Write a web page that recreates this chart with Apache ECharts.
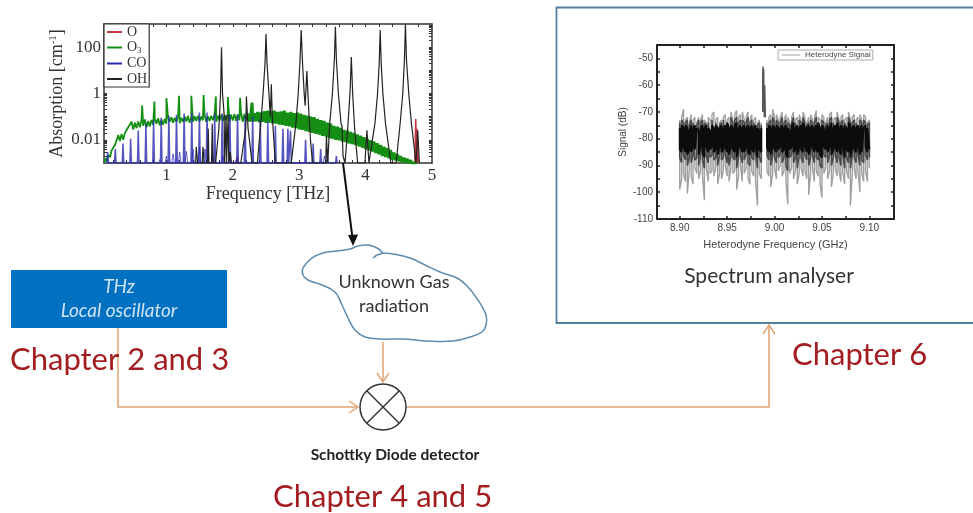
<!DOCTYPE html>
<html><head><meta charset="utf-8">
<style>html,body{margin:0;padding:0;background:#fff}#c{width:973px;height:513px;filter:blur(0.5px)}</style>
<script src="https://cdn.jsdelivr.net/npm/echarts@6/dist/echarts.min.js"></script>
</head><body><div id="c"></div>
<script>
// ---- absorption chart data ----
const absXTicks=[1,2,3,4,5];
const absYLabels=[0.01,1,100];
const absYMinor=[0.002,0.003,0.004,0.005,0.006,0.007,0.008,0.009,0.01,0.02,0.03,0.04,0.05,0.06,0.07,0.08,0.09,0.1,0.2,0.3,0.4,0.5,0.6,0.7,0.8,0.9,1,2,3,4,5,6,7,8,9,10,20,30,40,50,60,70,80,90,100,200,300,400,500,600,700,800,900];
const absXMinor=[0.2,0.4,0.6,0.8,1,1.2,1.4,1.6,1.8,2,2.2,2.4,2.6,2.8,3,3.2,3.4,3.6,3.8,4,4.2,4.4,4.6,4.8];
const coFreq=[0.115,0.23,0.346,0.461,0.576,0.691,0.807,0.922,1.037,1.152,1.267,1.382,1.497,1.612,1.727,1.841,1.956,2.071,2.185,2.299,2.413,2.527,2.641,2.755,2.829,2.869,3.096,3.21,3.323,3.56];
const coPeak=[0.003,0.004,0.007,0.011,0.025,0.05,0.07,0.09,0.11,0.12,0.14,0.14,0.15,0.15,0.14,0.14,0.13,0.12,0.11,0.1,0.08,0.06,0.04,0.03,0.03,0.025,0.01,0.007,0.004,0.002];
const coWing=[[0.9,0.0014],[1.0,0.002],[1.1,0.0025],[1.2,0.003],[1.3,0.0032],[1.4,0.004],[1.5,0.005],[1.58,0.004],[1.7,0.0025],[1.85,0.002],[1.95,0.002],[2.05,0.0014],[3.38,0.002],[3.42,0.003]];
const o3Freq=[0.06,0.1,0.15,0.2,0.25,0.3,0.35,0.4,0.45,0.5,0.55,0.6,0.65,0.7,0.75,0.8,0.85,0.9,0.95,1,1.05,1.1,1.15,1.2,1.25,1.3,1.35,1.4,1.45,1.5,1.55,1.6,1.65,1.7,1.75,1.8,1.85,1.9,1.95,2,2.05,2.1,2.15,2.2,2.25,2.3,2.35,2.4,2.45,2.5,2.55,2.6,2.65,2.7,2.75,2.8,2.85,2.9,2.95,3,3.05,3.1,3.15,3.2,3.25,3.3,3.35,3.4,3.45,3.5,3.55,3.6,3.65,3.7,3.75,3.8,3.85,3.9,3.95,4,4.05,4.1,4.15,4.2,4.25,4.3,4.35,4.4,4.45,4.5,4.55,4.6,4.65,4.7,4.75];
const o3Low=[0.001,0.0012,0.0018,0.003,0.006,0.009,0.01,0.018,0.03,0.028,0.032,0.035,0.04,0.035,0.038,0.045,0.05,0.042,0.045,0.05,0.06,0.055,0.06,0.052,0.06,0.062,0.055,0.06,0.065,0.062,0.07,0.06,0.065,0.07,0.06,0.068,0.065,0.07,0.062,0.068,0.065,0.07,0.06,0.066,0.062,0.06,0.064,0.058,0.06,0.055,0.056,0.05,0.05,0.046,0.045,0.04,0.038,0.034,0.032,0.028,0.027,0.024,0.022,0.02,0.018,0.017,0.015,0.014,0.012,0.011,0.01,0.0095,0.0085,0.008,0.007,0.0065,0.006,0.0052,0.0046,0.004,0.0035,0.0031,0.0027,0.0024,0.002,0.0018,0.0016,0.0014,0.0013,0.0012,0.0011,0.00105,0.001,0.001,0.001];
const o3High=[0.0016,0.0022,0.0035,0.006,0.016,0.018,0.02,0.035,0.06,0.055,0.062,0.07,0.075,0.065,0.072,0.08,0.085,0.075,0.08,0.09,0.095,0.09,0.1,0.09,0.1,0.11,0.095,0.105,0.11,0.1,0.12,0.105,0.11,0.12,0.11,0.12,0.115,0.13,0.12,0.13,0.125,0.14,0.13,0.14,0.15,0.14,0.16,0.15,0.17,0.18,0.17,0.18,0.16,0.17,0.18,0.15,0.16,0.14,0.15,0.135,0.12,0.11,0.1,0.095,0.08,0.07,0.065,0.055,0.05,0.04,0.037,0.033,0.027,0.025,0.022,0.02,0.017,0.015,0.013,0.011,0.0095,0.0085,0.0072,0.006,0.005,0.0044,0.0036,0.0028,0.0024,0.002,0.0017,0.0015,0.0013,0.0012,0.0011];
const o3Spikes=[[0.635,0.3],[0.82,0.45],[1.0,0.63],[1.19,0.8],[1.375,0.8],[1.56,0.85],[1.745,0.75],[1.925,0.7],[2.11,0.65],[2.29,0.4]];
const oPoints=[[2.06,0.001],[2.07,0.002],[2.08,0.001],[null,null],[4.74,0.001],[4.755,0.08],[4.77,0.001],[4.765,0.001],[4.775,0.03],[4.785,0.025],[4.795,0.001]];
const ohPoints=[[1.44,0.001],[1.45,0.005],[1.47,0.001],[1.54,0.001],[1.55,0.005],[1.57,0.001],[1.62,0.001],[1.63,0.03],[1.64,0.001],[1.68,0.001],[1.69,0.05],[1.7,0.001],
[1.74,0.001],[1.79,0.03],[1.815,1],[1.825,20],[1.83,100],[1.835,20],[1.845,1],[1.87,0.12],[1.875,0.001],[1.9,0.12],[1.905,0.001],[1.93,0.12],[1.94,0.001],[1.96,0.003],[1.98,0.001],
[2.12,0.001],[2.17,0.01],[2.195,0.03],[2.205,0.75],[2.215,0.75],[2.23,0.03],[2.25,0.01],[2.29,0.001],
[2.37,0.001],[2.43,0.1],[2.46,1.5],[2.485,20],[2.5,370],[2.515,20],[2.54,1.5],[2.565,0.1],[2.58,2.5],[2.595,0.1],[2.64,0.001],
[2.88,0.001],[2.95,0.05],[2.985,1],[3.01,20],[3.03,550],[3.05,20],[3.075,1],[3.09,0.3],[3.115,9.3],[3.13,9.3],[3.14,0.3],[3.17,0.01],[3.2,0.001],
[3.4,0.001],[3.41,0.015],[3.425,0.015],[3.43,0.001],[3.4,0.001],[3.46,0.05],[3.5,1],[3.53,30],[3.545,760],[3.56,30],[3.59,1],[3.63,0.05],[3.645,0.04],[3.66,0.002],[3.69,0.001],
[3.73,0.03],[3.765,1],[3.785,38],[3.805,1],[3.835,0.03],[3.88,0.001],
[3.99,0.001],[4.02,0.026],[4.03,0.026],[4.05,0.001],
[4.07,0.001],[4.14,0.05],[4.18,1],[4.205,20],[4.22,550],[4.235,20],[4.26,1],[4.3,0.05],[4.38,0.001],
[4.46,0.001],[4.52,0.05],[4.56,1],[4.585,30],[4.6,1000],[4.615,30],[4.65,1],[4.69,0.05],[4.76,0.001],
[4.77,0.001],[4.785,0.025],[4.795,0.025],[4.81,0.001]];
// ---- heterodyne chart data ----
const sigXLabels=[8.90,8.95,9.00,9.05,9.10];
const sigXTicks=[8.90,8.925,8.95,8.975,9.00,9.025,9.05,9.075,9.10];
const sigYLabels=[-110,-100,-90,-80,-70,-60,-50];
const sigYTicks=[-110,-105,-100,-95,-90,-85,-80,-75,-70,-65,-60,-55,-50,-45];
const leftStart=8.9, rightStart=8.992, sigStep=0.002;
const outerTopL=[-73,-72,-69,-73,-72,-74,-71,-73,-72,-74,-72,-73,-71,-73,-74,-72,-73,-71,-70,-73,-72,-74,-73,-72,-71,-73,-72,-70,-73,-71,-69.5,-72,-71,-70,-73,-72,-70,-73,-71,-73,-72,-74,-73,-74];
const outerBotL=[-99,-95,-93,-96,-100.5,-92,-94,-97,-91,-93,-95,-92,-94,-103,-91,-96,-93,-92,-94,-91,-97,-93,-95,-92,-90,-94,-96,-91,-93,-92,-99,-94,-90,-96,-93,-91,-95,-97,-92,-94,-96,-105,-93,-95];
const midTopL=[-74,-73,-74,-74,-73,-75,-73,-74,-74,-75,-73,-74,-73,-74,-75,-74,-74,-73,-73,-74,-74,-75,-74,-73,-73,-74,-74,-72,-74,-73,-72,-74,-73,-73,-74,-74,-72,-74,-73,-74,-74,-75,-74,-75];
const midBotL=[-87,-89,-86,-88,-90,-87,-89,-86,-88,-87,-90,-86,-88,-91,-86,-89,-87,-86,-88,-87,-90,-86,-88,-87,-86,-89,-90,-86,-87,-88,-91,-87,-86,-89,-88,-86,-89,-90,-87,-88,-86,-91,-87,-89];
const coreTopL=[-76,-75,-76,-75,-76,-77,-75,-76,-75,-76,-77,-76,-75,-76,-75,-76,-77,-75,-76,-75,-76,-76,-75,-76,-75,-74,-76,-75,-76,-75,-74,-76,-75,-76,-75,-76,-75,-76,-75,-76,-75,-76,-77,-76];
const coreBotL=[-84,-85,-83,-85,-86,-84,-85,-83,-84,-84,-86,-83,-85,-87,-83,-85,-84,-83,-85,-84,-86,-83,-85,-84,-83,-85,-86,-83,-84,-85,-87,-84,-83,-85,-85,-83,-85,-86,-84,-85,-83,-87,-84,-85];
const outerTopR=[-73,-72,-71,-69,-72,-71,-73,-72,-70,-73,-71,-72,-74,-72,-70,-73,-72,-71,-73,-70,-72,-74,-72,-71,-73,-72,-69.5,-72,-73,-71,-72,-74,-72,-71,-70,-73,-72,-70,-73,-72,-71,-73,-72,-70,-73,-72,-71,-73,-72,-71,-73,-71,-72,-74,-73];
const outerBotR=[-92,-94,-98,-93,-91,-95,-92,-90,-94,-92,-96,-104.5,-93,-91,-95,-92,-97,-93,-91,-94,-92,-95,-101,-93,-91,-96,-92,-94,-97,-102,-93,-91,-95,-92,-98,-93,-91,-94,-92,-96,-93,-97,-92,-95,-105,-93,-91,-95,-92,-100,-93,-96,-92,-96,-91];
const midTopR=[-74,-74,-73,-72,-74,-73,-74,-74,-72,-74,-73,-74,-75,-74,-72,-74,-74,-73,-74,-72,-74,-75,-74,-73,-74,-74,-72,-74,-74,-73,-74,-75,-74,-73,-72,-74,-74,-72,-74,-74,-73,-74,-74,-72,-74,-74,-73,-74,-74,-73,-74,-73,-74,-75,-74];
const midBotR=[-86,-88,-90,-86,-87,-89,-87,-86,-89,-87,-90,-92,-87,-86,-89,-87,-91,-86,-87,-89,-86,-88,-90,-87,-86,-89,-87,-88,-90,-91,-86,-87,-89,-86,-90,-87,-86,-89,-87,-90,-86,-91,-87,-89,-91,-86,-87,-89,-86,-90,-88,-89,-86,-88,-87];
const coreTopR=[-76,-75,-76,-75,-76,-75,-76,-76,-75,-76,-75,-76,-77,-75,-74,-76,-75,-76,-75,-74,-76,-76,-75,-76,-75,-76,-75,-74,-76,-75,-76,-77,-75,-76,-74,-76,-75,-74,-76,-75,-76,-75,-76,-74,-75,-76,-75,-76,-75,-76,-75,-76,-75,-76,-76];
const coreBotR=[-83,-85,-86,-83,-84,-85,-84,-83,-85,-84,-86,-87,-84,-83,-85,-84,-86,-83,-84,-85,-83,-85,-86,-84,-83,-85,-84,-85,-86,-87,-83,-84,-85,-83,-86,-84,-83,-85,-84,-86,-83,-87,-84,-85,-87,-83,-84,-85,-83,-86,-85,-85,-83,-85,-84];
const sigPeak=[[8.9875,-70],[8.9875,-56],[8.9878,-53],[8.988,-58],[8.9885,-54],[8.9888,-62],[8.9892,-72],[8.9896,-60],[8.99,-66],[8.9903,-72]];
const legendAbs=['O','O3','CO','OH'];

// --- build the line data from the lists above
const coLine=[];coFreq.forEach((f,i)=>coLine.push([f-0.012,0.001],[f,coPeak[i]],[f+0.012,0.001]));
const coWingLine=coWing.flatMap(p=>[[p[0]-0.02,0.001],p,[p[0]+0.02,0.001]]);
const o3Line=[];o3Freq.forEach((f,i)=>{o3Line.push([f,o3Low[i]],[f+0.025,o3High[i]]);});
o3Spikes.forEach(p=>o3Line.push(p));o3Line.sort((a,b)=>a[0]-b[0]);
const o3Left=o3Line.filter(p=>p[0]<=2.3), o3Right=o3Line.filter(p=>p[0]>=2.25);
function comb(start,tops,bots){const d=[];tops.forEach((t,i)=>{const f=start+i*sigStep;if(i%2)d.push([f,bots[i]],[f,t]);else d.push([f,t],[f,bots[i]]);});return d;}
const halves=(tL,bL,tR,bR)=>[...comb(leftStart,tL,bL),[null,null],...comb(rightStart,tR,bR)];
const outerLine=halves(outerTopL,outerBotL,outerTopR,outerBotR);
const midLine=halves(midTopL,midBotL,midTopR,midBotR);
const coreLine=halves(coreTopL,coreBotL,coreTopR,coreBotR);

const serif='"Liberation Serif",serif', sans='"Liberation Sans",sans-serif', cal='Lato,sans-serif';
const frame={show:true,lineStyle:{color:'#333',width:1.5}};
const frame2={show:true,lineStyle:{color:'#222',width:2}};
function line(name,data,color,width,xi,yi,opacity){return {name,type:'line',data,xAxisIndex:xi,yAxisIndex:yi,showSymbol:false,symbol:'none',silent:true,color,itemStyle:{color},connectNulls:false,animation:false,lineStyle:{color,width,opacity:opacity==null?1:opacity}};}
const orange='#dfa473';
function arrow(points){return {type:'polyline',shape:{points},style:{stroke:orange,fill:null,lineWidth:1.5},z:20};}
function txt(x,y,text,font,fill,style,align){return {type:'text',x,y,z:30,style:{text,font:(style||'')+' '+font,fill,align:align||'left',verticalAlign:'middle'}};}
const cloud=[[373,258],[377,255],[382,253],[377,248],[368,245],[358,246],[350,249],[337,251],[323,253],[312,258],[303,268],[303,275],[308,280],[322,285],[335,292],[342,305],[348,318],[355,330],[365,337],[380,339],[403,339],[427,341],[453,341],[470,337],[482,332],[486,325],[486,315],[478,300],[468,287],[457,278],[440,272],[425,265],[410,258],[393,254],[382,253]];

const option={
 backgroundColor:'#fff',animation:false,
 grid:[{left:104,top:24,width:328,height:139,show:false},{left:657,top:45,width:237,height:174,show:false}],
 legend:[
  {left:104,top:24,orient:'vertical',z:15,data:legendAbs,selectedMode:false,itemWidth:15,itemHeight:2,itemGap:1.5,icon:'rect',padding:[1,2,1,3],backgroundColor:'#fff',borderColor:'#333',borderWidth:1.2,
   formatter:n=>n==='O3'?'{a|O}{s|3}':'{a|'+n+'}',textStyle:{rich:{a:{fontFamily:serif,fontSize:14,color:'#333'},s:{fontFamily:serif,fontSize:9,color:'#333',verticalAlign:'bottom',padding:[6,0,0,0]}}}},
  {left:778,top:50,orient:'horizontal',z:15,data:['Heterodyne Signal'],selectedMode:false,itemWidth:18,itemHeight:1,icon:'rect',padding:[1,2,1,4],backgroundColor:'#fff',borderColor:'#aaa',borderWidth:1,textStyle:{fontFamily:sans,fontSize:8,color:'#444'}}
 ],
 xAxis:[
  {gridIndex:0,type:'value',min:0.06,max:5,position:'bottom',axisLine:frame,splitLine:{show:false},
   axisTick:{inside:true,length:3,customValues:absXMinor,lineStyle:{color:'#333'}},
   axisLabel:{customValues:absXTicks,fontFamily:serif,fontSize:17,color:'#333',margin:4,showMinLabel:true,showMaxLabel:true},
   name:'Frequency [THz]',nameLocation:'middle',nameGap:21,nameTextStyle:{fontFamily:serif,fontSize:18,color:'#333'}},
  {gridIndex:0,type:'value',min:0.06,max:5,position:'top',axisLine:frame,splitLine:{show:false},
   axisTick:{inside:true,length:3,customValues:absXMinor,lineStyle:{color:'#333'}},axisLabel:{show:false}},
  {gridIndex:1,type:'value',min:8.876,max:9.126,position:'bottom',axisLine:frame2,splitLine:{show:false},
   axisTick:{inside:true,length:3,customValues:sigXTicks,lineStyle:{color:'#222',width:1.5}},
   axisLabel:{customValues:sigXLabels,formatter:v=>v.toFixed(2),fontFamily:sans,fontSize:10,color:'#444',margin:4},
   name:'Heterodyne Frequency (GHz)',nameLocation:'middle',nameGap:20,nameTextStyle:{fontFamily:sans,fontSize:11,color:'#444'}},
  {gridIndex:1,type:'value',min:8.876,max:9.126,position:'top',axisLine:frame2,splitLine:{show:false},
   axisTick:{inside:true,length:3,customValues:sigXTicks,lineStyle:{color:'#222',width:1.5}},axisLabel:{show:false}}
 ],
 yAxis:[
  {gridIndex:0,type:'log',logBase:10,min:0.001,max:1000,position:'left',axisLine:frame,splitLine:{show:false},minorTick:{show:false},
   axisTick:{inside:true,length:3,customValues:absYMinor,lineStyle:{color:'#333'}},
   axisLabel:{customValues:absYLabels,formatter:v=>String(+Number(v).toPrecision(3)),fontFamily:serif,fontSize:17,color:'#333',margin:3},
   name:'{a|Absorption [cm}{s|-1}{a|]}',nameLocation:'middle',nameGap:38,nameTextStyle:{rich:{a:{fontFamily:serif,fontSize:18,color:'#333'},s:{fontFamily:serif,fontSize:11,color:'#333',verticalAlign:'top'}}}},
  {gridIndex:0,type:'log',logBase:10,min:0.001,max:1000,position:'right',axisLine:frame,splitLine:{show:false},minorTick:{show:false},
   axisTick:{inside:true,length:3,customValues:absYMinor,lineStyle:{color:'#333'}},axisLabel:{show:false}},
  {gridIndex:1,type:'value',min:-110,max:-45,position:'left',axisLine:frame2,splitLine:{show:false},
   axisTick:{inside:true,length:3,customValues:sigYTicks,lineStyle:{color:'#222',width:1.5}},
   axisLabel:{customValues:sigYLabels,fontFamily:sans,fontSize:10,color:'#444',margin:4},
   name:'Signal (dB)',nameLocation:'middle',nameGap:29,nameTextStyle:{fontFamily:sans,fontSize:10,color:'#444'}},
  {gridIndex:1,type:'value',min:-110,max:-45,position:'right',axisLine:frame2,splitLine:{show:false},
   axisTick:{inside:true,length:3,customValues:sigYTicks,lineStyle:{color:'#222',width:1.5}},axisLabel:{show:false}}
 ],
 series:[
  line('O',oPoints,'#c8343f',1.5,0,0),
  line('O3',o3Left,'#148f14',1.8,0,0),
  line('O3',o3Right,'#148f14',3,0,0),
  line('CO',coLine,'#2b2bb0',1.5,0,0,0.8),
  line('CO',coWingLine,'#2b2bb0',1,0,0,0.7),
  line('OH',ohPoints,'#222',1.2,0,0),
  line('Heterodyne Signal',outerLine,'#a0a0a0',1.4,2,2),
  line('Heterodyne Signal',midLine,'#4a4a4a',1.6,2,2),
  line('Heterodyne Signal',coreLine,'#0c0c0c',1.9,2,2),
  line('Heterodyne Signal',sigPeak,'#555',1.4,2,2)
 ],
 graphic:{elements:[
  {type:'rect',shape:{x:556.5,y:7.5,width:430,height:315.5},style:{fill:null,stroke:'#54809f',lineWidth:1.8},z:1},
  {type:'rect',shape:{x:11,y:270,width:216,height:58},style:{fill:'#0070c0'},z:1},
  txt(119,287,'THz','19px '+cal,'#cfe3f2','italic','center'),
  txt(119,311,'Local oscillator','19px '+cal,'#cfe3f2','italic','center'),
  txt(10,360,'Chapter 2 and 3','31px '+cal,'#a31d20'),
  txt(273,497,'Chapter 4 and 5','31px '+cal,'#a31d20'),
  txt(792,355,'Chapter 6','31px '+cal,'#a31d20'),
  txt(395,455,'Schottky Diode detector','bold 15.5px '+cal,'#222',null,'center'),
  txt(769,276,'Spectrum analyser','21px '+cal,'#333',null,'center'),
  txt(394,282,'Unknown Gas','18px '+cal,'#333',null,'center'),
  txt(394,306,'radiation','18px '+cal,'#333',null,'center'),
  {type:'polyline',shape:{points:cloud,smooth:0.4},style:{stroke:'#5f8bad',fill:null,lineWidth:1.5},z:10},
  arrow([[118,328],[118,407],[358,407]]),arrow([[349,401],[358,407],[349,413]]),
  arrow([[383,342],[383,382]]),arrow([[377,373],[383,382],[389,373]]),
  arrow([[407,407],[769,407],[769,325]]),arrow([[763,334],[769,325],[775,334]]),
  {type:'circle',shape:{cx:383,cy:407,r:23},style:{fill:'#fff',stroke:'#333',lineWidth:1.5},z:21},
  {type:'line',shape:{x1:367,y1:391,x2:399,y2:423},style:{stroke:'#333',lineWidth:1.5},z:22},
  {type:'line',shape:{x1:399,y1:391,x2:367,y2:423},style:{stroke:'#333',lineWidth:1.5},z:22},
  {type:'line',shape:{x1:343,y1:163,x2:352.5,y2:238},style:{stroke:'#111',lineWidth:2},z:20},
  {type:'polygon',shape:{points:[[348,235],[358,234.5],[353,246]]},style:{fill:'#111'},z:20}
 ]}
};
const chart=echarts.init(document.getElementById('c'),null,{width:973,height:513});
chart.setOption(option);
</script></body></html>
